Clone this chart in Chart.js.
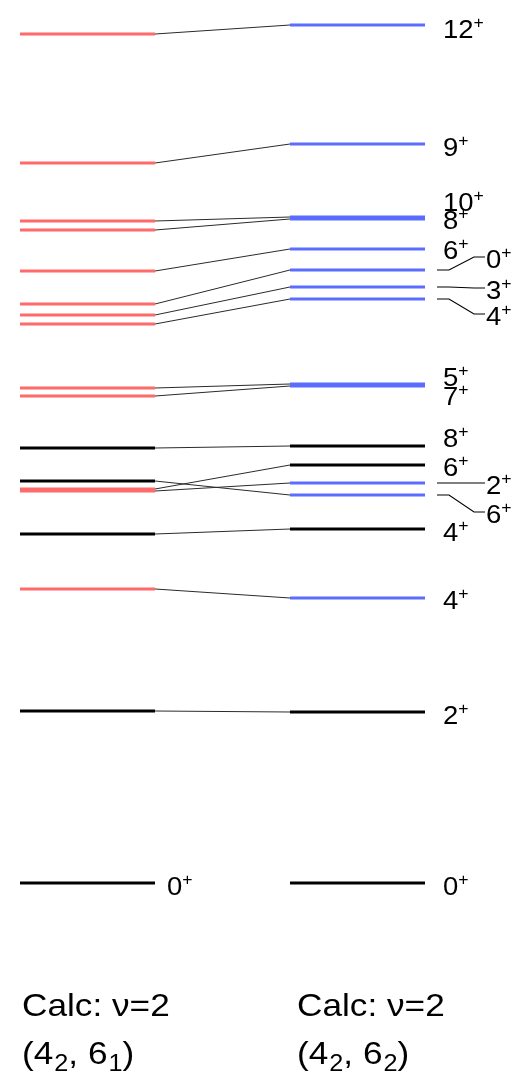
<!DOCTYPE html>
<html>
<head>
<meta charset="utf-8">
<script src="https://cdn.jsdelivr.net/npm/chart.js@4"></script>
<style>
  html, body { margin: 0; padding: 0; background: #fff; }
  canvas { display: block; }
</style>
</head>
<body>
<canvas id="levels" width="525" height="1081"></canvas>
<script>
// level energies (keV), colour class per level
const leftEnergies  = [3396, 2880, 2648, 2612, 2448, 2316, 2272, 2236, 1980, 1948, 1740, 1608, 1576, 1568, 1396, 1176, 688, 0];
const leftKinds     = ['r','r','r','r','r','r','r','r','r','r','k','k','r','r','k','r','k','k'];
const rightEnergies = [3432, 2956, 2664, 2656, 2536, 2452, 2384, 2336, 1996, 1988, 1748, 1672, 1600, 1552, 1416, 1140, 684, 0];
const rightKinds    = ['b','b','b','b','b','b','b','b','b','b','k','k','b','b','k','b','k','k'];
const rightSpins    = ['12','9','10','8','6','0','3','4','5','7','8','6','2','6','4','4','2','0'];
const leftSpins     = ['','','','','','','','','','','','','','','','','','0'];
// connector lines: [left index, right index]
const links = [[0,0],[1,1],[2,2],[3,3],[4,4],[5,5],[6,6],[7,7],[8,8],[9,9],[10,10],[11,13],[12,11],[13,12],[14,14],[15,15],[16,16]];
const titles  = ['Calc: ν=2', 'Calc: ν=2'];
const configs = [['4','2','6','1'], ['4','2','6','2']];

// layout (pixels)
const labelDy  = [4,3,-15,1,1,-13,1,15,-7,10,-8,2,0,17,3,2,3,3];
const leader   = [0,0,0,0,0,1,1,1,0,0,0,0,1,1,0,0,0,0];
const cols = { left: [20, 155], right: [290, 425] };
const colors = { r: '#ff6b6b', b: '#5b6cff', k: '#000000' };
const FONT = '"Liberation Sans", Arial, sans-serif';
const HSCALE = 1.1;

const datasets = [];
leftEnergies.forEach((e, i) => datasets.push({
  data: [{x: cols.left[0], y: e}, {x: cols.left[1], y: e}],
  borderColor: colors[leftKinds[i]], borderWidth: 3
}));
rightEnergies.forEach((e, i) => datasets.push({
  data: [{x: cols.right[0], y: e}, {x: cols.right[1], y: e}],
  borderColor: colors[rightKinds[i]], borderWidth: 3
}));
links.forEach(([a, b]) => datasets.push({
  data: [{x: cols.left[1], y: leftEnergies[a]}, {x: cols.right[0], y: rightEnergies[b]}],
  borderColor: '#2a2a2a', borderWidth: 1
}));

function drawText(ctx, txt, x, y, size) {
  ctx.save();
  ctx.font = size + 'px ' + FONT;
  ctx.translate(x, y);
  ctx.scale(HSCALE, 1);
  ctx.fillText(txt, 0, 0);
  const w = ctx.measureText(txt).width * HSCALE;
  ctx.restore();
  return w;
}

// spin label: digits centred on cy, with a raised "+"
function drawSpin(ctx, spin, x, cy) {
  const base = cy + 0.358 * 25;
  const w = drawText(ctx, spin, x, base, 25);
  drawText(ctx, '+', x + w, base - 10, 16);
}

const labelPlugin = {
  id: 'levelLabels',
  afterDatasetsDraw(chart) {
    const { ctx } = chart;
    const y = chart.scales.y;
    ctx.save();
    ctx.fillStyle = '#000';
    ctx.textBaseline = 'alphabetic';
    rightSpins.forEach((spin, i) => {
      const py = y.getPixelForValue(rightEnergies[i]);
      const ly = py + labelDy[i];
      if (leader[i]) {
        ctx.strokeStyle = '#000';
        ctx.lineWidth = 1.2;
        ctx.beginPath();
        ctx.moveTo(437, py);
        ctx.lineTo(449, py);
        ctx.lineTo(474, ly);
        ctx.lineTo(485, ly);
        ctx.stroke();
        drawSpin(ctx, spin, 486, ly + 2);
      } else {
        drawSpin(ctx, spin, 443, ly);
      }
    });
    leftSpins.forEach((spin, i) => {
      if (!spin) return;
      const py = y.getPixelForValue(leftEnergies[i]);
      drawSpin(ctx, spin, 167, py + 3);
    });
    // column titles
    const xs = [22, 297];
    titles.forEach((t, i) => {
      drawText(ctx, t, xs[i], 1016, 32);
      const c = configs[i];
      let x = xs[i];
      x += drawText(ctx, '(' + c[0], x, 1064, 32);
      x += drawText(ctx, c[1], x + 1, 1071, 23) + 1;
      x += drawText(ctx, ', ' + c[2], x, 1064, 32);
      x += drawText(ctx, c[3], x + 1, 1071, 23) + 1;
      drawText(ctx, ')', x, 1064, 32);
    });
    ctx.restore();
  }
};

new Chart(document.getElementById('levels'), {
  type: 'line',
  data: { datasets },
  options: {
    responsive: false,
    animation: false,
    events: [],
    layout: { padding: 0 },
    elements: { point: { radius: 0 }, line: { tension: 0, borderCapStyle: 'butt' } },
    plugins: { legend: { display: false }, tooltip: { enabled: false } },
    scales: {
      x: { type: 'linear', min: 0, max: 525, display: false },
      y: { type: 'linear', min: -792, max: 3532, display: false }
    }
  },
  plugins: [labelPlugin]
});
</script>
</body>
</html>
